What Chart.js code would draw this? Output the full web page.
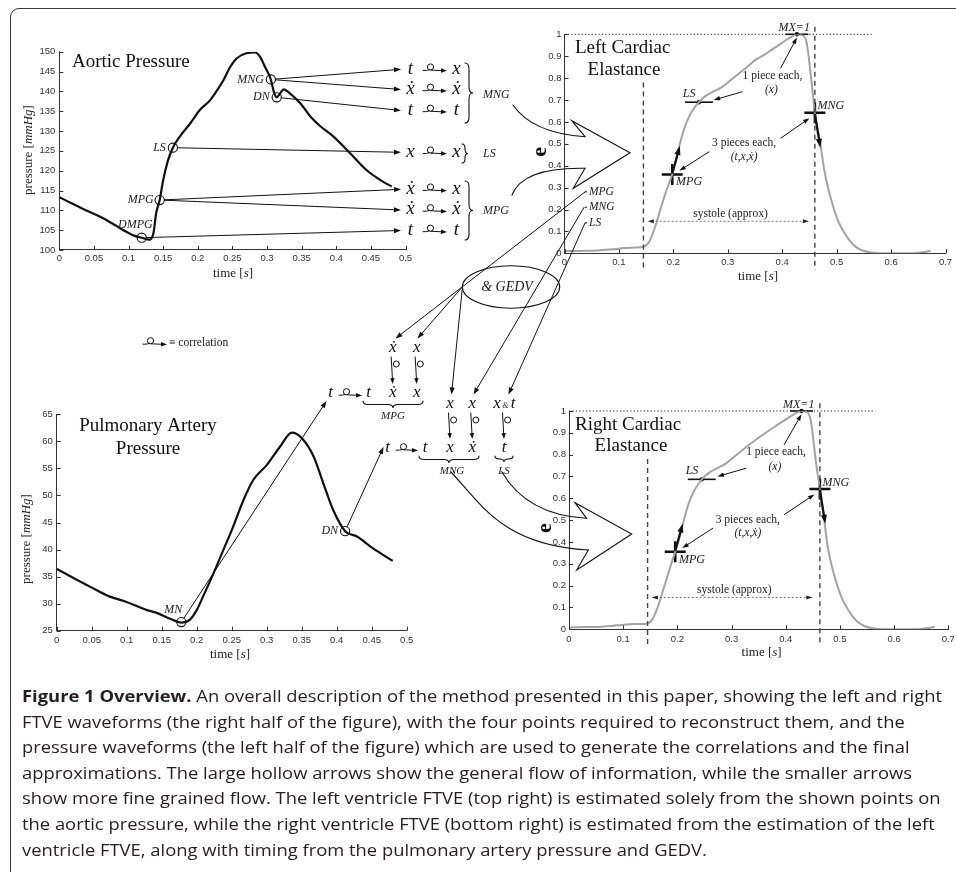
<!DOCTYPE html>
<html>
<head>
<meta charset="utf-8">
<script src="https://cdn.jsdelivr.net/npm/chart.js@4.4.1/dist/chart.umd.min.js"></script>
<style>
html,body{margin:0;padding:0;background:#fff;width:956px;height:872px;overflow:hidden;}
#wrap{position:relative;width:956px;height:872px;overflow:hidden;}
#wrap canvas{position:absolute;left:0;top:0;}
#frame{position:absolute;left:10px;top:8px;width:1000px;height:920px;border:1.5px solid #3c3c3c;border-radius:9px;box-sizing:border-box;}
#caption{position:absolute;left:22px;top:683px;font-family:"Open Sans",sans-serif;font-size:16.5px;line-height:25.6px;color:#231f20;transform-origin:0 0;white-space:nowrap;}
#caption b{font-weight:700;}
</style>
</head>
<body>
<div id="wrap">
  <div id="frame"></div>
  <canvas id="cAortic" width="1000" height="900"></canvas>
  <canvas id="cPulm" width="1000" height="900"></canvas>
  <canvas id="cLeft" width="1000" height="900"></canvas>
  <canvas id="cRight" width="1000" height="900"></canvas>
  <canvas id="cOver" width="1000" height="900"></canvas>
  <div id="caption">
    <div><span><b>Figure 1 Overview.</b> An overall description of the method presented in this paper, showing the left and right</span></div>
    <div><span>FTVE waveforms (the right half of the figure), with the four points required to reconstruct them, and the</span></div>
    <div><span>pressure waveforms (the left half of the figure) which are used to generate the correlations and the final</span></div>
    <div><span>approximations. The large hollow arrows show the general flow of information, while the smaller arrows</span></div>
    <div><span>show more fine grained flow. The left ventricle FTVE (top right) is estimated solely from the shown points on</span></div>
    <div><span>the aortic pressure, while the right ventricle FTVE (bottom right) is estimated from the estimation of the left</span></div>
    <div><span>ventricle FTVE, along with timing from the pulmonary artery pressure and GEDV.</span></div>
  </div>
</div>
<script>
// ================= DATA =================
const aorticT = [0, 0.02, 0.04, 0.06, 0.08, 0.10, 0.11, 0.119, 0.13, 0.136, 0.14, 0.145, 0.15, 0.157, 0.164, 0.174, 0.189, 0.203, 0.218, 0.228, 0.237, 0.247, 0.256, 0.27, 0.283, 0.29, 0.297, 0.3055, 0.31, 0.314, 0.319, 0.324, 0.333, 0.348, 0.365, 0.377, 0.396, 0.42, 0.444, 0.465, 0.48];
const aorticP = [113.3, 111.6, 109.9, 108.3, 106.3, 104.3, 103.5, 103.1, 102.6, 104.3, 109.4, 112.6, 117.6, 122.6, 125.8, 128.6, 131.9, 135.3, 137.8, 140.3, 142.8, 146.2, 148.3, 149.6, 149.8, 148.7, 146.2, 143.0, 139.8, 138.5, 139.5, 140.5, 139.5, 137.0, 133.2, 131.2, 128.6, 124.4, 120.1, 117.5, 116.0];
const aorticMarkNames = ['MNG', 'DN', 'LS', 'MPG', 'DMPG'];
const aorticMarkT = [0.3055, 0.314, 0.164, 0.145, 0.119];
const aorticMarkP = [143.0, 138.5, 125.8, 112.6, 103.1];
const aorticXTicks = [0, 0.05, 0.1, 0.15, 0.2, 0.25, 0.3, 0.35, 0.4, 0.45, 0.5];
const aorticYTicks = [100, 105, 110, 115, 120, 125, 130, 135, 140, 145, 150];

const pulmT = [0, 0.048, 0.076, 0.098, 0.129, 0.143, 0.162, 0.178, 0.19, 0.2, 0.209, 0.224, 0.238, 0.252, 0.267, 0.281, 0.3, 0.319, 0.336, 0.35, 0.367, 0.381, 0.395, 0.412, 0.429, 0.452, 0.48];
const pulmP = [36.4, 33.1, 31.3, 30.4, 28.8, 28.3, 27.2, 26.5, 27.0, 28.8, 31.3, 35.6, 39.9, 44.2, 49.2, 52.9, 55.6, 59.0, 61.6, 60.6, 57.2, 52.2, 47.3, 43.4, 42.4, 40.2, 37.9];
const pulmMarkNames = ['MN', 'DN'];
const pulmMarkT = [0.178, 0.412];
const pulmMarkP = [26.6, 43.4];
const pulmXTicks = [0, 0.05, 0.1, 0.15, 0.2, 0.25, 0.3, 0.35, 0.4, 0.45, 0.5];
const pulmYTicks = [25, 30, 35, 40, 45, 50, 55, 60, 65];

const leftElastT = [0, 0.03, 0.06, 0.09, 0.11, 0.13, 0.145, 0.155, 0.165, 0.175, 0.185, 0.192, 0.198, 0.205, 0.212, 0.22, 0.23, 0.24, 0.247, 0.26, 0.275, 0.29, 0.305, 0.32, 0.335, 0.351, 0.366, 0.381, 0.396, 0.412, 0.427, 0.436, 0.445, 0.454, 0.46, 0.469, 0.478, 0.49, 0.502, 0.515, 0.53, 0.545, 0.563, 0.6, 0.64, 0.673];
const leftElastE = [0.01, 0.011, 0.013, 0.018, 0.024, 0.026, 0.03, 0.05, 0.11, 0.19, 0.27, 0.32, 0.36, 0.43, 0.5, 0.57, 0.63, 0.67, 0.69, 0.72, 0.74, 0.76, 0.79, 0.82, 0.85, 0.883, 0.905, 0.93, 0.955, 0.981, 1.0, 0.997, 0.96, 0.78, 0.642, 0.517, 0.37, 0.243, 0.152, 0.09, 0.04, 0.015, 0.004, 0.0, 0.0, 0.01];
const rightElastT = [0, 0.03, 0.06, 0.09, 0.11, 0.13, 0.145, 0.155, 0.165, 0.175, 0.185, 0.19, 0.196, 0.205, 0.212, 0.22, 0.23, 0.24, 0.245, 0.26, 0.275, 0.29, 0.305, 0.32, 0.335, 0.351, 0.366, 0.381, 0.396, 0.412, 0.429, 0.437, 0.446, 0.455, 0.463, 0.47, 0.478, 0.49, 0.502, 0.515, 0.53, 0.545, 0.563, 0.6, 0.64, 0.675];
const rightElastE = [0.008, 0.01, 0.012, 0.018, 0.023, 0.024, 0.027, 0.05, 0.11, 0.19, 0.27, 0.31, 0.355, 0.43, 0.5, 0.57, 0.63, 0.67, 0.687, 0.72, 0.74, 0.76, 0.79, 0.82, 0.85, 0.88, 0.905, 0.93, 0.955, 0.98, 1.0, 0.997, 0.96, 0.78, 0.643, 0.52, 0.37, 0.243, 0.152, 0.09, 0.04, 0.015, 0.004, 0.0, 0.0, 0.01];
const elastXTicks = [0, 0.1, 0.2, 0.3, 0.4, 0.5, 0.6, 0.7];
const elastYTicks = [0, 0.1, 0.2, 0.3, 0.4, 0.5, 0.6, 0.7, 0.8, 0.9, 1];
const keyNames = ['MPG', 'LS', 'MX', 'MNG'];
const leftKeyT = [0.198, 0.247, 0.427, 0.46];
const leftKeyE = [0.36, 0.69, 1.0, 0.642];
const rightKeyT = [0.196, 0.245, 0.429, 0.463];
const rightKeyE = [0.355, 0.687, 1.0, 0.643];

// ================= STYLE / LAYOUT =================
const CW = 1000, CH = 900, YW = 30, XH = 20;
const SER = '"Liberation Serif","DejaVu Serif","Times New Roman",serif';
const SANS = '"Liberation Sans",Arial,Helvetica,sans-serif';
const AX = '13px ' + SER, AXI = 'italic 13px ' + SER;
const AREA_AORTIC = {left: 59.3, right: 405.5, top: 51.7, bottom: 250};
const AREA_PULM = {left: 56.7, right: 406.7, top: 414.3, bottom: 630.7};
const AREA_LEFT = {left: 564.5, right: 945.5, top: 34.3, bottom: 253.3};
const AREA_RIGHT = {left: 569, right: 948.3, top: 411, bottom: 629.3};
const TICK_FONT = {family: SANS, size: 9.5};

function fmt(v) { return String(+(+v).toFixed(3)); }
function pts(xs, ys) { return xs.map((x, i) => ({x: x, y: ys[i]})); }

function T(ctx, s, x, y, font, align, color) {
  ctx.font = font; ctx.textAlign = align || 'center'; ctx.textBaseline = 'middle';
  ctx.fillStyle = color || '#111'; ctx.fillText(s, x, y);
}
function M(ctx, s, x, y, size) { // math italic, visually centred on x-height
  ctx.font = 'italic ' + size + 'px ' + SER; ctx.textAlign = 'center'; ctx.textBaseline = 'alphabetic';
  ctx.fillStyle = '#111'; ctx.fillText(s, x, y + size * 0.23);
}
function mixed(ctx, parts, cx, cy, rot) {
  ctx.save(); ctx.translate(cx, cy); if (rot) ctx.rotate(rot);
  let w = 0; parts.forEach(p => { ctx.font = p[1]; w += ctx.measureText(p[0]).width; });
  let x = -w / 2; ctx.textBaseline = 'middle'; ctx.textAlign = 'left'; ctx.fillStyle = '#222';
  parts.forEach(p => { ctx.font = p[1]; ctx.fillText(p[0], x, 0); x += ctx.measureText(p[0]).width; });
  ctx.restore();
}
function seg(ctx, x1, y1, x2, y2) { ctx.beginPath(); ctx.moveTo(x1, y1); ctx.lineTo(x2, y2); ctx.stroke(); }
function arrow(ctx, x1, y1, x2, y2, hl, hw, lw) {
  hl = hl || 7; hw = hw || 2.5; lw = lw || 1;
  const a = Math.atan2(y2 - y1, x2 - x1), c = Math.cos(a), s = Math.sin(a);
  ctx.lineWidth = lw; ctx.beginPath(); ctx.moveTo(x1, y1); ctx.lineTo(x2 - c * hl * 0.6, y2 - s * hl * 0.6); ctx.stroke();
  ctx.beginPath(); ctx.moveTo(x2, y2);
  ctx.lineTo(x2 - hl * c + hw * s, y2 - hl * s - hw * c);
  ctx.lineTo(x2 - hl * c - hw * s, y2 - hl * s + hw * c);
  ctx.closePath(); ctx.fill();
}
function arrowFrom(ctx, mx, my, r, x2, y2) {
  const a = Math.atan2(y2 - my, x2 - mx);
  arrow(ctx, mx + r * Math.cos(a), my + r * Math.sin(a), x2, y2);
}
function corrH(ctx, x1, x2, y) { // correlation glyph: tail, loop, arrow
  ctx.lineWidth = 1;
  ctx.beginPath(); ctx.moveTo(x1, y + 1.2); ctx.quadraticCurveTo(x1 + 4, y + 1.4, x1 + 6, y + 0.6); ctx.stroke();
  ctx.beginPath(); ctx.arc(x1 + 7.5, y - 2.3, 3.1, 0, Math.PI * 2); ctx.stroke();
  arrow(ctx, x1 + 8, y + 0.8, x2, y + 1.5, 6, 2.2, 1);
}
function corrV(ctx, x, y1, y2) {
  ctx.lineWidth = 1;
  ctx.beginPath(); ctx.arc(x + 3.6, y1 + 7, 3, 0, Math.PI * 2); ctx.stroke();
  arrow(ctx, x - 1.5, y1, x, y2, 6, 2.2, 1);
}
function braceR(ctx, x, y1, y2, w) { // "}" with tip to the right
  const ym = (y1 + y2) / 2, h = w / 2;
  ctx.lineWidth = 1.1; ctx.beginPath();
  ctx.moveTo(x, y1); ctx.quadraticCurveTo(x + h, y1, x + h, y1 + h * 1.5);
  ctx.lineTo(x + h, ym - h * 1.5); ctx.quadraticCurveTo(x + h, ym, x + w, ym);
  ctx.quadraticCurveTo(x + h, ym, x + h, ym + h * 1.5);
  ctx.lineTo(x + h, y2 - h * 1.5); ctx.quadraticCurveTo(x + h, y2, x, y2);
  ctx.stroke();
}
function braceD(ctx, x1, x2, y, w) { // under-brace, tip down
  const xm = (x1 + x2) / 2, h = w / 2;
  ctx.lineWidth = 1.1; ctx.beginPath();
  ctx.moveTo(x1, y); ctx.quadraticCurveTo(x1, y + h, x1 + h * 1.5, y + h);
  ctx.lineTo(xm - h * 1.5, y + h); ctx.quadraticCurveTo(xm, y + h, xm, y + w);
  ctx.quadraticCurveTo(xm, y + h, xm + h * 1.5, y + h);
  ctx.lineTo(x2 - h * 1.5, y + h); ctx.quadraticCurveTo(x2, y + h, x2, y);
  ctx.stroke();
}

const inwardTicks = {
  id: 'inwardTicks',
  afterDraw(c) {
    const ctx = c.ctx, a = c.chartArea, sx = c.scales.x, sy = c.scales.y;
    ctx.save(); ctx.strokeStyle = '#333'; ctx.lineWidth = 1;
    sx.ticks.forEach(t => { const p = Math.round(sx.getPixelForValue(t.value)) + 0.5; seg(ctx, p, a.bottom, p, a.bottom - 4); });
    sy.ticks.forEach(t => { const p = Math.round(sy.getPixelForValue(t.value)) + 0.5; seg(ctx, a.left, p, a.left + 4, p); });
    ctx.restore();
  }
};

function makeChart(id, area, xTicks, yTicks, datasets, plugin, padX, padY) {
  return new Chart(document.getElementById(id), {
    type: 'line',
    data: {datasets: datasets},
    options: {
      responsive: false, animation: false, devicePixelRatio: 1,
      layout: {padding: {left: area.left - YW, top: area.top, right: CW - area.right, bottom: CH - area.bottom - XH}},
      plugins: {legend: {display: false}, tooltip: {enabled: false}},
      scales: {
        x: {
          type: 'linear', min: xTicks[0], max: xTicks[xTicks.length - 1],
          afterBuildTicks: s => { s.ticks = xTicks.map(v => ({value: v})); },
          afterFit: s => { s.height = XH; },
          ticks: {callback: v => fmt(v), autoSkip: false, maxRotation: 0, padding: padX, color: '#333', font: TICK_FONT},
          grid: {drawOnChartArea: false, drawTicks: false},
          border: {color: '#333', width: 1}
        },
        y: {
          type: 'linear', min: yTicks[0], max: yTicks[yTicks.length - 1],
          afterBuildTicks: s => { s.ticks = yTicks.map(v => ({value: v})); },
          afterFit: s => { s.width = YW; },
          ticks: {callback: v => fmt(v), autoSkip: false, padding: padY, color: '#333', font: TICK_FONT},
          grid: {drawOnChartArea: false, drawTicks: false},
          border: {color: '#333', width: 1}
        }
      }
    },
    plugins: [inwardTicks, plugin]
  });
}

function markerSet(xs, ys) {
  return {data: pts(xs, ys), showLine: false, pointRadius: 4.6, pointStyle: 'circle', pointBorderColor: '#111',
    pointBackgroundColor: 'rgba(0,0,0,0)', pointBorderWidth: 1.1, clip: false};
}

// ---------- Aortic ----------
const aorticLabelOffsets = {MNG: [-7, 0, 'right'], DN: [-7, 0, 'right'], LS: [-7, 0, 'right'], MPG: [-6, 0, 'right'], DMPG: [11, -12.5, 'right']};
const aorticPlugin = {
  id: 'aorticAnnot',
  afterDraw(c) {
    const ctx = c.ctx; ctx.save();
    T(ctx, 'Aortic Pressure', 72, 62, '19px ' + SER, 'left', '#111');
    mixed(ctx, [['pressure [', AX], ['mmHg', AXI], [']', AX]], 29, 150, -Math.PI / 2);
    mixed(ctx, [['time [', AX], ['s', AXI], [']', AX]], 233, 274, 0);
    aorticMarkNames.forEach((n, i) => {
      const x = c.scales.x.getPixelForValue(aorticMarkT[i]), y = c.scales.y.getPixelForValue(aorticMarkP[i]);
      const o = aorticLabelOffsets[n];
      T(ctx, n, x + o[0], y + o[1], 'italic 12px ' + SER, o[2], '#222');
    });
    ctx.restore();
  }
};
const cA = makeChart('cAortic', AREA_AORTIC, aorticXTicks, aorticYTicks, [
  {data: pts(aorticT, aorticP), borderColor: '#111', borderWidth: 2.2, pointRadius: 0, tension: 0.4, cubicInterpolationMode: 'monotone'},
  markerSet(aorticMarkT, aorticMarkP)
], aorticPlugin, 3, 4);

// ---------- Pulmonary ----------
const pulmLabelOffsets = {MN: [-8, -12, 'center'], DN: [-7, 0, 'right']};
const pulmPlugin = {
  id: 'pulmAnnot',
  afterDraw(c) {
    const ctx = c.ctx; ctx.save();
    T(ctx, 'Pulmonary Artery', 148, 426, '19px ' + SER, 'center', '#111');
    T(ctx, 'Pressure', 148, 449, '19px ' + SER, 'center', '#111');
    mixed(ctx, [['pressure [', AX], ['mmHg', AXI], [']', AX]], 27, 539, -Math.PI / 2);
    mixed(ctx, [['time [', AX], ['s', AXI], [']', AX]], 230, 655, 0);
    pulmMarkNames.forEach((n, i) => {
      const x = c.scales.x.getPixelForValue(pulmMarkT[i]), y = c.scales.y.getPixelForValue(pulmMarkP[i]);
      const o = pulmLabelOffsets[n];
      T(ctx, n, x + o[0], y + o[1], 'italic 12px ' + SER, o[2], '#222');
    });
    ctx.restore();
  }
};
const cP = makeChart('cPulm', AREA_PULM, pulmXTicks, pulmYTicks, [
  {data: pts(pulmT, pulmP), borderColor: '#111', borderWidth: 2.2, pointRadius: 0, tension: 0.4, cubicInterpolationMode: 'monotone'},
  markerSet(pulmMarkT, pulmMarkP)
], pulmPlugin, 4, 4);

// ---------- Elastance ----------
function elastDatasets(ts, es, kt, ke) {
  const pick = names => names.map(n => keyNames.indexOf(n));
  const cr = pick(['MPG', 'MNG']), br = pick(['LS', 'MX']);
  return [
    {data: pts(ts, es), borderColor: '#a3a3a3', borderWidth: 2, pointRadius: 0, tension: 0.4, cubicInterpolationMode: 'monotone'},
    {data: cr.map(i => ({x: kt[i], y: ke[i]})), showLine: false, pointStyle: 'cross', pointRadius: 10.5, pointBorderWidth: 2.6, pointBorderColor: '#111', clip: false},
    {data: br.map(i => ({x: kt[i], y: ke[i]})), showLine: false, pointStyle: 'line', pointRadius: [14, 11.5], pointBorderWidth: 1.6, pointBorderColor: '#111', clip: false},
    {data: br.map(i => ({x: kt[i], y: ke[i]})), showLine: false, pointStyle: 'circle', pointRadius: 2.2, pointBorderWidth: 0, pointBackgroundColor: '#111', clip: false}
  ];
}
function elastPlugin(id, kt, ke, title, titlePos) {
  return {
    id: id,
    afterDraw(c) {
      const ctx = c.ctx, a = c.chartArea;
      const X = v => c.scales.x.getPixelForValue(v), Y = v => c.scales.y.getPixelForValue(v);
      const k = n => { const i = keyNames.indexOf(n); return [kt[i], ke[i]]; };
      const mpg = k('MPG'), ls = k('LS'), mx = k('MX'), mng = k('MNG');
      ctx.save();
      ctx.strokeStyle = '#222'; ctx.fillStyle = '#111';
      ctx.lineWidth = 1; ctx.setLineDash([1.2, 2.2]);
      seg(ctx, X(0), Y(1), X(0.565), Y(1));
      ctx.setLineDash([5, 4]); ctx.lineWidth = 1.4; ctx.strokeStyle = '#444';
      seg(ctx, X(0.145), Y(0.78), X(0.145), a.bottom + 17);
      seg(ctx, X(mng[0]), Y(1.035), X(mng[0]), a.bottom + 17);
      ctx.setLineDash([2, 2]); ctx.lineWidth = 1; ctx.strokeStyle = '#777';
      seg(ctx, X(0.16), Y(0.146), X(0.44), Y(0.146));
      ctx.setLineDash([]); ctx.strokeStyle = '#222'; ctx.fillStyle = '#222';
      arrow(ctx, X(0.2), Y(0.146), X(0.153), Y(0.146), 6, 2, 0.01);
      arrow(ctx, X(0.4), Y(0.146), X(0.449), Y(0.146), 6, 2, 0.01);
      T(ctx, 'systole (approx)', X(0.305), Y(0.18), '11.5px ' + SER, 'center', '#222');
      ctx.strokeStyle = '#111'; ctx.fillStyle = '#111';
      arrow(ctx, X(mpg[0]), Y(mpg[1] + 0.005), X(mpg[0] + 0.014), Y(mpg[1] + 0.13), 9, 3, 2.2);
      arrow(ctx, X(mng[0]), Y(mng[1] - 0.005), X(mng[0] + 0.01), Y(mng[1] - 0.16), 9, 3, 2.2);
      const lf = 'italic 12px ' + SER;
      T(ctx, 'LS', X(ls[0] - 0.018), Y(ls[1] + 0.04), lf, 'center', '#222');
      T(ctx, 'MX=1', X(mx[0] - 0.005), Y(1.03), lf, 'center', '#222');
      T(ctx, 'MNG', X(mng[0] + 0.005), Y(mng[1] + 0.03), lf, 'left', '#222');
      T(ctx, 'MPG', X(mpg[0] + 0.007), Y(mpg[1] - 0.035), lf, 'left', '#222');
      const nf = '11.5px ' + SER;
      T(ctx, '1 piece each,', X(0.382), Y(0.81), nf, 'center', '#222');
      T(ctx, '(x)', X(0.38), Y(0.745), 'italic 11.5px ' + SER, 'center', '#222');
      T(ctx, '3 pieces each,', X(0.33), Y(0.503), nf, 'center', '#222');
      T(ctx, '(t,x,ẋ)', X(0.33), Y(0.44), 'italic 11.5px ' + SER, 'center', '#222');
      ctx.strokeStyle = '#111'; ctx.fillStyle = '#111';
      arrow(ctx, X(0.327), Y(0.738), X(0.274), Y(0.70), 6.5, 2.2, 1);
      arrow(ctx, X(0.397), Y(0.845), X(mx[0]), Y(0.985), 6.5, 2.2, 1);
      arrow(ctx, X(0.266), Y(0.464), X(mpg[0] + 0.013), Y(mpg[1] + 0.017), 6.5, 2.2, 1);
      arrow(ctx, X(0.397), Y(0.525), X(mng[0] - 0.01), Y(mng[1] - 0.025), 6.5, 2.2, 1);
      T(ctx, title[0], titlePos[0][0], titlePos[0][1], '19px ' + SER, 'left', '#111');
      T(ctx, title[1], titlePos[1][0], titlePos[1][1], '19px ' + SER, 'center', '#111');
      mixed(ctx, [['time [', AX], ['s', AXI], [']', AX]], (a.left + a.right) / 2 + 3, a.bottom + 23, 0);
      ctx.save(); ctx.translate(a.left - 24, (a.top + a.bottom) / 2 + 8); ctx.rotate(-Math.PI / 2);
      T(ctx, 'e', 0, 0, 'bold 22px ' + SER, 'center', '#111'); ctx.restore();
      ctx.restore();
    }
  };
}
const cL = makeChart('cLeft', AREA_LEFT, elastXTicks, elastYTicks, elastDatasets(leftElastT, leftElastE, leftKeyT, leftKeyE),
  elastPlugin('leftAnnot', leftKeyT, leftKeyE, ['Left Cardiac', 'Elastance'], [[575, 48], [624, 70]]), 3, 3);
const cR = makeChart('cRight', AREA_RIGHT, elastXTicks, elastYTicks, elastDatasets(rightElastT, rightElastE, rightKeyT, rightKeyE),
  elastPlugin('rightAnnot', rightKeyT, rightKeyE, ['Right Cardiac', 'Elastance'], [[575, 425], [631, 446]]), 4, 3);

// ================= CROSS-FIGURE ANNOTATIONS =================
function markPix(chart, names, ts, vs, n) {
  const i = names.indexOf(n);
  return [chart.scales.x.getPixelForValue(ts[i]), chart.scales.y.getPixelForValue(vs[i])];
}
(function overlay() {
  const ctx = document.getElementById('cOver').getContext('2d');
  ctx.strokeStyle = '#111'; ctx.fillStyle = '#111'; ctx.lineCap = 'round';
  const pA = n => markPix(cA, aorticMarkNames, aorticMarkT, aorticMarkP, n);
  const pP = n => markPix(cP, pulmMarkNames, pulmMarkT, pulmMarkP, n);

  const rows = [
    {y: 69.3, from: 'MNG', l: 't', r: 'x'},
    {y: 89.5, from: 'MNG', l: 'ẋ', r: 'ẋ'},
    {y: 110.5, from: 'DN', l: 't', r: 't'},
    {y: 152.3, from: 'LS', l: 'x', r: 'x'},
    {y: 189.3, from: 'MPG', l: 'ẋ', r: 'x'},
    {y: 210, from: 'MPG', l: 'ẋ', r: 'ẋ'},
    {y: 230.5, from: 'DMPG', l: 't', r: 't'}
  ];
  rows.forEach(r => {
    const m = pA(r.from);
    ctx.strokeStyle = '#111'; ctx.fillStyle = '#111';
    arrowFrom(ctx, m[0], m[1], 4.8, 401, r.y);
    M(ctx, r.l, 410.5, r.y, 19);
    corrH(ctx, 423, 447, r.y);
    M(ctx, r.r, 456.5, r.y, 19);
  });
  ctx.strokeStyle = '#111';
  braceR(ctx, 465, 63, 123, 8);
  braceR(ctx, 462, 144, 163, 6);
  braceR(ctx, 465, 181, 240, 8);
  T(ctx, 'MNG', 483, 94.5, 'italic 12px ' + SER, 'left', '#222');
  T(ctx, 'LS', 483, 153.5, 'italic 12px ' + SER, 'left', '#222');
  T(ctx, 'MPG', 483, 211, 'italic 12px ' + SER, 'left', '#222');

  ctx.lineWidth = 1.1; ctx.strokeStyle = '#111';
  ctx.beginPath(); ctx.moveTo(513, 105); ctx.quadraticCurveTo(532, 133, 585, 136.7); ctx.stroke();
  ctx.beginPath(); ctx.moveTo(512, 195); ctx.quadraticCurveTo(523, 167, 585, 168.3); ctx.stroke();
  ctx.beginPath(); ctx.moveTo(585, 136.7); ctx.lineTo(571.7, 120.7); ctx.lineTo(630, 152.7); ctx.lineTo(573.3, 188.3); ctx.lineTo(585, 168.3); ctx.stroke();
  ctx.beginPath(); ctx.moveTo(501.7, 471.7); ctx.quadraticCurveTo(527, 515, 586.7, 518.3); ctx.stroke();
  ctx.beginPath(); ctx.moveTo(451, 472); ctx.bezierCurveTo(482, 505, 503, 545, 588.3, 550); ctx.stroke();
  ctx.beginPath(); ctx.moveTo(586.7, 518.3); ctx.lineTo(575, 502.7); ctx.lineTo(631.7, 534); ctx.lineTo(576.7, 570); ctx.lineTo(588.3, 550); ctx.stroke();

  const sf = 'italic 11.5px ' + SER;
  [['MPG', 191.7], ['MNG', 207.3], ['LS', 222.8]].forEach(p => {
    ctx.beginPath(); ctx.arc(586, p[1], 0.9, 0, Math.PI * 2); ctx.fill();
    T(ctx, p[0], 589, p[1], sf, 'left', '#222');
  });
  ctx.strokeStyle = '#111'; ctx.fillStyle = '#111';
  corrH(ctx, 143, 167, 343);
  T(ctx, '≡ correlation', 169, 343, '11.5px ' + SER, 'left', '#222');

  ctx.lineWidth = 1.1; ctx.strokeStyle = '#111';
  ctx.beginPath(); ctx.ellipse(511, 287, 48.7, 21.2, 0, 0, Math.PI * 2); ctx.stroke();
  T(ctx, '& GEDV', 507, 287, 'italic 14px ' + SER, 'center', '#222');
  ctx.lineWidth = 1; seg(ctx, 585, 192, 462.5, 286.7);
  ctx.fillStyle = '#111';
  arrow(ctx, 462.5, 286.7, 395.5, 338.5);
  arrow(ctx, 462.5, 286.7, 417.5, 338.5);
  arrow(ctx, 462.5, 286.7, 451.5, 394.5);
  arrow(ctx, 584, 207.5, 473.5, 394.5);
  arrow(ctx, 585, 223, 508.5, 394.5);

  const mn = pP('MN');
  arrowFrom(ctx, mn[0], mn[1], 4.8, 326.5, 401);
  M(ctx, 't', 330.5, 393.3, 17);
  corrH(ctx, 339, 362, 394);
  M(ctx, 't', 368.5, 393.3, 17); M(ctx, 'ẋ', 392.7, 393.3, 17); M(ctx, 'x', 416.7, 393.3, 17);
  ctx.strokeStyle = '#111';
  braceD(ctx, 363, 423, 401, 7);
  T(ctx, 'MPG', 393, 416.5, 'italic 11px ' + SER, 'center', '#222');
  M(ctx, 'ẋ', 392.7, 348.3, 17); M(ctx, 'x', 416.7, 348.3, 17);
  ctx.fillStyle = '#111';
  corrV(ctx, 392.7, 357, 384); corrV(ctx, 416.7, 357, 384);

  M(ctx, 'x', 450, 404, 17); M(ctx, 'x', 472.3, 404, 17);
  M(ctx, 'x', 497, 404, 17); T(ctx, '&', 505.3, 405.5, 'italic 8px ' + SER, 'center', '#222'); M(ctx, 't', 513, 404, 17);
  ctx.fillStyle = '#111';
  corrV(ctx, 450, 413, 439); corrV(ctx, 472.3, 413, 439); corrV(ctx, 504, 413, 439);
  const dn = pP('DN');
  arrowFrom(ctx, dn[0], dn[1], 4.8, 383.5, 447);
  M(ctx, 't', 387.7, 448.3, 17);
  corrH(ctx, 396, 418, 449);
  M(ctx, 't', 425, 448.3, 17); M(ctx, 'x', 450, 448.3, 17); M(ctx, 'ẋ', 472.3, 448.3, 17); M(ctx, 't', 504, 448.3, 17);
  braceD(ctx, 419, 479, 456, 7);
  braceD(ctx, 495, 513, 456, 6);
  T(ctx, 'MNG', 452, 471.5, 'italic 11px ' + SER, 'center', '#222');
  T(ctx, 'LS', 504, 471, 'italic 11px ' + SER, 'center', '#222');
})();

(function fitCaption() {
  const cap = document.getElementById('caption');
  const w = cap.querySelector('span').getBoundingClientRect().width;
  if (w > 0) cap.style.transform = 'scaleX(' + (920 / w) + ')';
})();
</script>
</body>
</html>
